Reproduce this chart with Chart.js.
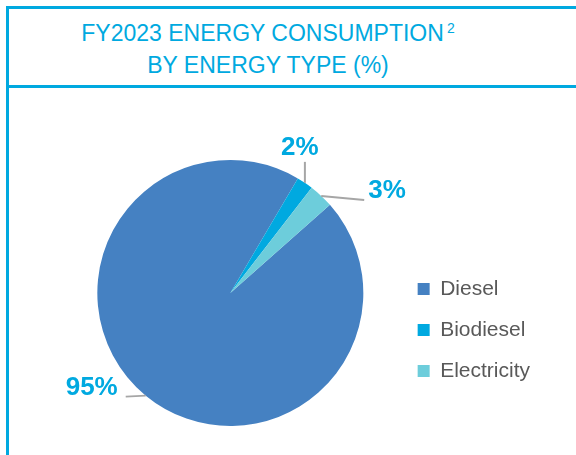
<!DOCTYPE html>
<html>
<head>
<meta charset="utf-8">
<script src="https://cdn.jsdelivr.net/npm/chart.js@4/dist/chart.umd.min.js"></script>
<style>
	body { margin: 0; width: 576px; height: 455px; position: relative; background: #fff; overflow: hidden; font-family: "Liberation Sans", Arial, sans-serif; }
	.line { position: absolute; background: #00A9E0; }
	#title { position: absolute; left: 68px; width: 400px; top: 19px; text-align: center; color: #00A9E0; font-size: 23px; line-height: 29px; }
	#title sup { font-size: 14px; vertical-align: 0; position: relative; top: -8px; margin-left: 3px; }
	#wrap { position: absolute; left: 0; top: 0; width: 576px; height: 455px; }
</style>
</head>
<body>
<div class="line" style="left:6px;top:6px;width:570px;height:3px"></div>
<div class="line" style="left:6px;top:85px;width:570px;height:3px"></div>
<div class="line" style="left:6px;top:6px;width:3px;height:449px"></div>
<div id="title">FY2023 ENERGY CONSUMPTION<sup>2</sup><br>BY ENERGY TYPE (%)</div>
<div id="wrap"><canvas id="energy"></canvas></div>
<script>
var energyTypes = ['Diesel', 'Biodiesel', 'Electricity'];
var sharePct = [95, 2, 3];
var sliceColours = ['#4581C2', '#00A9E0', '#6DCDDB'];

// where each percentage label sits, relative to the edge of its slice
var labelSpots = [
	{ elbow: [-20, 1], text: [-28, -8], align: 'right' },
	{ elbow: [0, -21], text: [-5, -35], align: 'center' },
	{ elbow: [43, 4], text: [47, -5], align: 'left' }
];

var pctLabels = {
	id: 'pctLabels',
	afterDatasetsDraw: function(chart) {
		var ctx = chart.ctx;
		var arcs = chart.getDatasetMeta(0).data;
		ctx.save();
		arcs.forEach(function(arc, i) {
			var p = arc.getProps(['x', 'y', 'startAngle', 'endAngle', 'outerRadius'], true);
			var mid = (p.startAngle + p.endAngle) / 2;
			var ex = p.x + Math.cos(mid) * p.outerRadius;
			var ey = p.y + Math.sin(mid) * p.outerRadius;
			var s = labelSpots[i];
			ctx.strokeStyle = '#A6A6A6';
			ctx.lineWidth = 2;
			ctx.beginPath();
			ctx.moveTo(ex, ey);
			ctx.lineTo(ex + s.elbow[0], ey + s.elbow[1]);
			ctx.stroke();
			ctx.fillStyle = '#00A9E0';
			ctx.font = 'bold 26px "Liberation Sans", Arial, sans-serif';
			ctx.textAlign = s.align;
			ctx.textBaseline = 'middle';
			ctx.fillText(sharePct[i] + '%', ex + s.text[0], ey + s.text[1]);
		});
		ctx.restore();
	}
};

new Chart(document.getElementById('energy'), {
	type: 'pie',
	data: {
		labels: energyTypes,
		datasets: [{
			data: sharePct,
			backgroundColor: sliceColours,
			borderWidth: 0
		}]
	},
	options: {
		responsive: true,
		maintainAspectRatio: false,
		animation: false,
		rotation: 48.5,
		layout: { padding: { left: 63, right: 36, top: 160, bottom: 29 } },
		plugins: {
			tooltip: { enabled: false },
			legend: {
				position: 'right',
				title: { display: true, text: ' ', padding: 25, font: { size: 20 } },
				labels: {
					boxWidth: 12,
					boxHeight: 12,
					padding: 20,
					color: '#595959',
					font: { size: 21, family: '"Liberation Sans", Arial, sans-serif' }
				}
			}
		}
	},
	plugins: [pctLabels]
});
</script>
</body>
</html>
